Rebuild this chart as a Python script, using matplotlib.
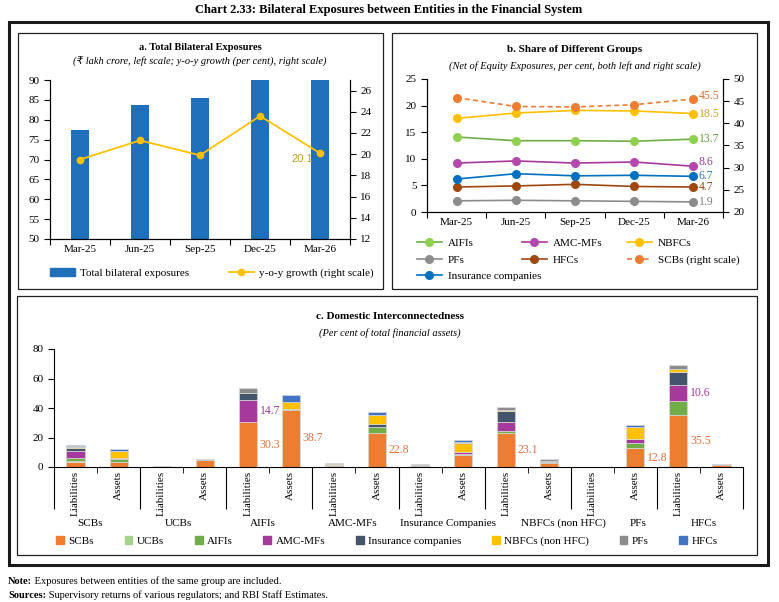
import matplotlib
matplotlib.use("Agg")
import matplotlib.pyplot as plt
from matplotlib.patches import Rectangle, Patch
from matplotlib.lines import Line2D
from matplotlib.transforms import blended_transform_factory

plt.rcParams['font.family'] = ['Liberation Serif', 'DejaVu Serif']
plt.rcParams['font.size'] = 8

W, H = 779, 602

# ---------------- data ----------------
quarters = ["Mar-25", "Jun-25", "Sep-25", "Dec-25", "Mar-26"]
total_exposures = [77.4, 83.6, 85.5, 96.0, 100.5]
yoy_growth = [19.5, 21.3, 19.9, 23.6, 20.1]

share_aifis = [14.1, 13.4, 13.4, 13.3, 13.7]
share_amc = [9.2, 9.6, 9.2, 9.4, 8.6]
share_nbfcs = [17.6, 18.6, 19.1, 19.0, 18.5]
share_pfs = [2.1, 2.2, 2.1, 2.0, 1.9]
share_hfcs = [4.7, 4.9, 5.2, 4.8, 4.7]
share_ins = [6.2, 7.2, 6.8, 6.9, 6.7]
share_scbs = [45.8, 43.8, 43.7, 44.2, 45.5]

groups = ["SCBs", "UCBs", "AIFIs", "AMC-MFs", "Insurance Companies",
          "NBFCs (non HFC)", "PFs", "HFCs"]
sides = ["Liabilities", "Assets"]
# 16 bars: (group, Liabilities), (group, Assets)
c_scbs = [3.5, 3.2, 0.0, 4.8, 30.3, 38.7, 0.5, 22.8, 0.3, 7.9, 23.1, 3.0, 0.0, 12.8, 35.5, 1.5]
c_ucbs = [0.3, 0.3, 0.0, 0.0, 0.0, 0.0, 0.0, 0.0, 0.0, 0.2, 0.0, 0.0, 0.0, 0.0, 0.0, 0.0]
c_aifis = [2.5, 2.0, 0.0, 0.0, 0.5, 0.4, 0.2, 4.2, 0.2, 1.0, 1.3, 0.2, 0.0, 3.8, 9.2, 0.0]
c_amc = [4.8, 0.3, 0.1, 0.0, 14.7, 0.0, 0.5, 0.3, 1.0, 0.8, 6.3, 0.7, 0.0, 2.2, 10.6, 0.0]
c_ins = [2.0, 0.2, 0.0, 0.0, 4.6, 0.0, 0.0, 1.6, 0.0, 0.0, 7.5, 0.0, 0.0, 0.3, 8.9, 0.0]
c_nbfc = [0.5, 4.8, 0.0, 0.0, 0.4, 5.0, 1.0, 6.1, 0.0, 6.5, 0.5, 0.5, 0.0, 8.2, 2.2, 0.0]
c_pfs = [0.9, 0.2, 0.4, 0.6, 3.0, 0.0, 0.5, 0.0, 0.8, 0.3, 2.2, 0.8, 0.0, 0.0, 2.5, 0.3]
c_hfcs = [0.2, 1.2, 0.0, 0.0, 0.0, 4.8, 0.0, 2.0, 0.0, 1.5, 0.0, 0.0, 0.0, 1.3, 0.0, 0.0]
c_series = [("SCBs", c_scbs, "#ED7D31"), ("UCBs", c_ucbs, "#A9D18E"),
            ("AIFIs", c_aifis, "#70AD47"), ("AMC-MFs", c_amc, "#A5399C"),
            ("Insurance companies", c_ins, "#44546A"),
            ("NBFCs (non HFC)", c_nbfc, "#FFC000"), ("PFs", c_pfs, "#8C8C8C"),
            ("HFCs", c_hfcs, "#4472C4")]
# labelled segments: (bar index, series index)
c_labels = [(4, 0), (4, 3), (5, 0), (7, 0), (10, 0), (13, 0), (14, 0), (14, 3)]
# the group names sit a little off-centre, as in the original
group_label_shift = [-0.16, -0.12, -0.16, -0.07, 0.14, 0.84, 0.56, 0.09]


def rect(l, t, r, b):
    return [l / W, 1 - b / H, (r - l) / W, (b - t) / H]


def fpt(x, y):
    return (x / W, 1 - y / H)


fig = plt.figure(figsize=(7.79, 6.02), dpi=100)

# frames
fig.add_artist(Rectangle(fpt(9, 565), 759 / W, 543 / H, transform=fig.transFigure,
                         fill=False, lw=2.2, ec="#1a1a1a"))
for l, t, r, b in [(18, 33, 383, 289), (392, 33, 757, 289), (17, 296, 757, 555)]:
    fig.add_artist(Rectangle(fpt(l, b), (r - l) / W, (b - t) / H, transform=fig.transFigure,
                             fill=False, lw=0.9, ec="#222222"))

fig.text(389 / W, 1 - 10 / H, "Chart 2.33: Bilateral Exposures between Entities in the Financial System",
         ha="center", va="center", fontsize=9, fontweight="bold")

# ---------------- panel a ----------------
ax = fig.add_axes(rect(50, 80, 350, 239))
x = range(len(quarters))
ax.bar(x, total_exposures, width=0.31, color="#1F6FBA", zorder=2)
ax.set_ylim(50, 90)
ax.set_xlim(-0.5, 4.5)
ax.set_yticks(range(50, 91, 5))
ax.set_xticks([i - 0.5 for i in range(6)])
ax.set_xticklabels([])
ax.set_xticks(list(x), minor=True)
ax.set_xticklabels(quarters, minor=True)
ax.tick_params(axis="x", which="major", length=4, direction="out")
ax.tick_params(axis="x", which="minor", length=0, pad=4)
ax.tick_params(axis="y", length=4, direction="out")
ax.spines["top"].set_visible(False)
ax2 = ax.twinx()
ax2.plot(x, yoy_growth, color="#FFC000", lw=1.3, marker="o", ms=4.5, zorder=3)
ax2.set_ylim(12, 27)
ax2.set_yticks(range(12, 27, 2))
ax2.tick_params(axis="y", length=4, direction="out")
ax2.spines["top"].set_visible(False)
ax2.annotate(f"{yoy_growth[-1]}", (4, yoy_growth[-1]), xytext=(-5, -4),
             textcoords="offset points", ha="right", va="center",
             color="#C49A2A", fontsize=8, family=["Liberation Sans", "DejaVu Sans"])
fig.text(200 / W, 1 - 48 / H, "a. Total Bilateral Exposures", ha="center", va="center",
         fontsize=7.5, fontweight="bold")
fig.text(200 / W, 1 - 62 / H, "(₹ lakh crore, left scale; y-o-y growth (per cent), right scale)",
         ha="center", va="center", fontsize=7.5, style="italic", family=["Liberation Serif", "DejaVu Sans"])
fig.legend(handles=[Patch(color="#1F6FBA", label="Total bilateral exposures"),
                    Line2D([], [], color="#FFC000", lw=1.3, marker="o", ms=4.5,
                           label="y-o-y growth (right scale)")],
           loc="center left", bbox_to_anchor=fpt(44, 273), ncol=2, frameon=False,
           borderpad=0, handlelength=2.3, handletextpad=0.4, columnspacing=3.6, fontsize=8)

# ---------------- panel b ----------------
bx = fig.add_axes(rect(427, 79, 723, 212))
b_series = [("AIFIs", share_aifis, "#70AD47", "#8FD14F", 0),
            ("AMC-MFs", share_amc, "#A5399C", "#B548AC", 3),
            ("NBFCs", share_nbfcs, "#FFC000", "#FFC000", 0),
            ("PFs", share_pfs, "#8C8C8C", "#8C8C8C", 0),
            ("HFCs", share_hfcs, "#9E480E", "#9E480E", 0),
            ("Insurance companies", share_ins, "#0070C0", "#0070C0", 0)]
label_colors = {"AIFIs": "#5E9E3A", "AMC-MFs": "#A5399C", "NBFCs": "#C9A227",
                "PFs": "#7F7F7F", "HFCs": "#9E480E", "Insurance companies": "#2E75B6"}
handles = {}
for name, vals, c, mc, dy in b_series:
    h, = bx.plot(x, vals, color=c, lw=1.2, marker="o", ms=5.5, mfc=mc, mec=mc, label=name)
    handles[name] = h
    bx.annotate(f"{vals[-1]}", (4, vals[-1]), xytext=(4, dy), textcoords="offset points",
                ha="left", va="center", color=label_colors[name], fontsize=8.5)
bx.set_ylim(0, 25)
bx.set_xlim(-0.5, 4.5)
bx.set_yticks(range(0, 26, 5))
bx.set_xticks([i - 0.5 for i in range(6)])
bx.set_xticklabels([])
bx.set_xticks(list(x), minor=True)
bx.set_xticklabels(quarters, minor=True)
bx.tick_params(axis="x", which="major", length=4, direction="out")
bx.tick_params(axis="x", which="minor", length=0, pad=4)
bx.tick_params(axis="y", length=4)
bx.spines["top"].set_visible(False)
bx2 = bx.twinx()
h, = bx2.plot(x, share_scbs, color="#ED7D31", lw=1.2, ls=(0, (3, 2)), marker="o", ms=5.5,
              label="SCBs (right scale)")
handles["SCBs (right scale)"] = h
bx2.annotate(f"{share_scbs[-1]}", (4, share_scbs[-1]), xytext=(4, 2), textcoords="offset points",
             ha="left", va="center", color="#E46C2C", fontsize=8.5)
bx2.set_ylim(20, 50)
bx2.set_yticks(range(20, 51, 5))
bx2.tick_params(axis="y", length=4)
bx2.spines["top"].set_visible(False)
fig.text(575 / W, 1 - 50 / H, "b. Share of Different Groups", ha="center", va="center",
         fontsize=8, fontweight="bold")
fig.text(575 / W, 1 - 66 / H, "(Net of Equity Exposures, per cent, both left and right scale)",
         ha="center", va="center", fontsize=7.5, style="italic")
for names, xl in [(["AIFIs", "PFs", "Insurance companies"], 411),
                  (["AMC-MFs", "HFCs"], 516),
                  (["NBFCs", "SCBs (right scale)"], 621)]:
    fig.legend(handles=[handles[n] for n in names], loc="upper left", bbox_to_anchor=fpt(xl, 233),
               frameon=False, borderpad=0, handlelength=2.3, handletextpad=0.5,
               labelspacing=0.6, fontsize=8)

# ---------------- panel c ----------------
cx = fig.add_axes(rect(54, 349, 743, 467))
pos = list(range(16))
bottom = [0.0] * 16
bottoms = []
for name, vals, c in c_series:
    cx.bar(pos, vals, width=0.42, bottom=bottom, color=c, ec="#D9D9D9", lw=0.5, label=name, zorder=2)
    bottoms.append(list(bottom))
    bottom = [b + v for b, v in zip(bottom, vals)]
lab_col = {0: "#E0703A", 3: "#A5399C"}
for i, s in c_labels:
    v = c_series[s][1][i]
    cx.annotate(f"{v}", (i + 0.21, bottoms[s][i] + v / 2), xytext=(2, 0), textcoords="offset points",
                ha="left", va="center", color=lab_col[s], fontsize=8.5)
cx.set_xlim(-0.5, 15.5)
cx.set_ylim(0, 80)
cx.set_yticks(range(0, 81, 20))
cx.tick_params(axis="y", length=4)
cx.set_xticks([i - 0.5 for i in range(0, 17, 2)])
cx.set_xticks([i - 0.5 for i in range(1, 17, 2)], minor=True)
cx.set_xticklabels([])
cx.tick_params(axis="x", which="major", length=30, direction="out")
cx.tick_params(axis="x", which="minor", length=4, direction="out")
for side in ["top", "right"]:
    cx.spines[side].set_visible(False)
tr = blended_transform_factory(cx.transData, fig.transFigure)
for i in pos:
    cx.text(i, 1 - 471 / H, sides[i % 2], rotation=90, ha="center", va="top",
            transform=tr, fontsize=8)
for g, name in enumerate(groups):
    cx.text(2 * g + 0.5 + group_label_shift[g], 1 - 523 / H, name, ha="center", va="center",
            transform=tr, fontsize=8)
fig.text(390 / W, 1 - 317 / H, "c. Domestic Interconnectedness", ha="center", va="center",
         fontsize=8, fontweight="bold")
fig.text(390 / W, 1 - 333 / H, "(Per cent of total financial assets)", ha="center", va="center",
         fontsize=7.5, style="italic")
c_handles = [Patch(color=c, label=n) for n, v, c in c_series]
fig.legend(handles=c_handles, loc="center", bbox_to_anchor=fpt(387, 541), ncol=8, frameon=False,
           borderpad=0, handlelength=0.7, handleheight=0.7, handletextpad=0.4,
           columnspacing=2.75, fontsize=8)

# ---------------- notes ----------------
t1 = fig.text(8 / W, 1 - 581 / H, "Note:", ha="left", va="center", fontsize=7.5, fontweight="bold")
fig.add_artist(plt.Annotation(" Exposures between entities of the same group are included.",
                              xy=(1, 0), xycoords=t1, va="bottom", fontsize=7.5))
t2 = fig.text(8 / W, 1 - 595 / H, "Sources:", ha="left", va="center", fontsize=7.5, fontweight="bold")
fig.add_artist(plt.Annotation(" Supervisory returns of various regulators; and RBI Staff Estimates.",
                              xy=(1, 0), xycoords=t2, va="bottom", fontsize=7.5))

fig.savefig("out.png", dpi=100)
